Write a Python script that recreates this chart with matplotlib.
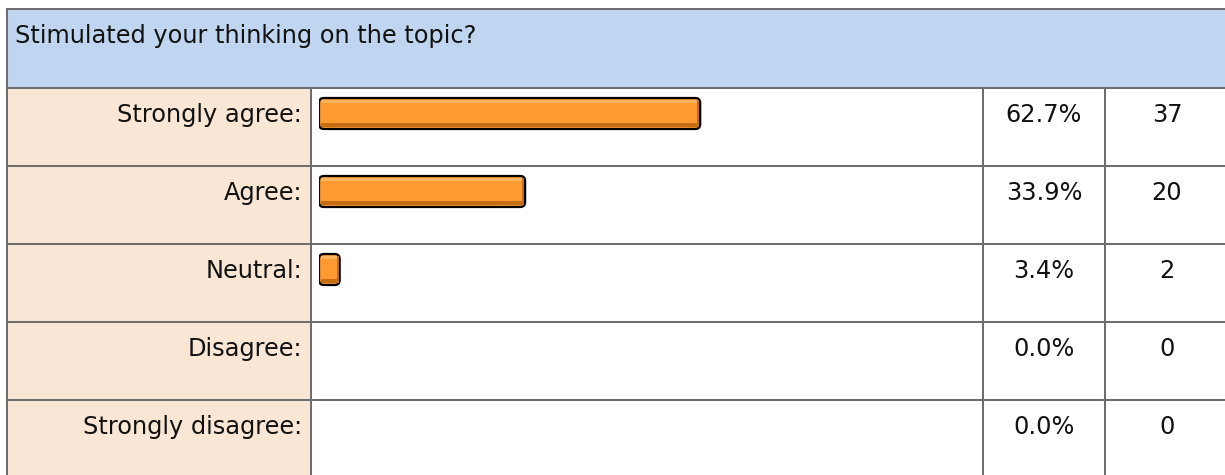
"""Survey result table: one question, five answers, percentage bars."""

import matplotlib

matplotlib.use("Agg")
import matplotlib.pyplot as plt
from matplotlib.patches import FancyBboxPatch, Rectangle

QUESTION = "Stimulated your thinking on the topic?"
ANSWERS = ["Strongly agree:", "Agree:", "Neutral:", "Disagree:", "Strongly disagree:"]
PERCENTS = [62.7, 33.9, 3.4, 0.0, 0.0]
COUNTS = [37, 20, 2, 0, 0]

W, H = 1225, 475
HEAD_BG = "#c0d5ef"
LABEL_BG = "#f9e6d5"
GRID = "#6e6e6e"
ORANGE = "#ff9a33"
ORANGE_DARK = "#c56d12"
ORANGE_LIGHT = "#ffb45e"

# table layout in pixels
LEFT, TOP, HEAD_BOT = 7, 9, 88
ROW_H = 78
COL_LABEL, COL_BAR, COL_PCT = 311, 983, 1105
BAR_X0, PX_PER_PCT = 319, 6.08

plt.rcParams["font.family"] = ["DejaVu Sans"]
fig = plt.figure(figsize=(W / 100, H / 100), dpi=100)
ax = fig.add_axes([0, 0, 1, 1])
ax.set_xlim(0, W)
ax.set_ylim(H, 0)
ax.axis("off")

n = len(ANSWERS)
bottom = HEAD_BOT + n * ROW_H
lw = 1.45

# backgrounds
ax.add_patch(Rectangle((LEFT, TOP), W - LEFT, HEAD_BOT - TOP, color=HEAD_BG, lw=0))
ax.add_patch(Rectangle((LEFT, HEAD_BOT), COL_LABEL - LEFT, bottom - HEAD_BOT,
                       color=LABEL_BG, lw=0))

# grid lines
ax.plot([LEFT, W], [TOP, TOP], color=GRID, lw=lw)
ax.plot([LEFT, LEFT], [TOP, bottom], color=GRID, lw=lw)
for i in range(n + 1):
    y = HEAD_BOT + i * ROW_H
    ax.plot([LEFT, W], [y, y], color=GRID, lw=lw)
for x in (COL_LABEL, COL_BAR, COL_PCT):
    ax.plot([x, x], [HEAD_BOT, bottom], color=GRID, lw=lw)

# text
fs = 17.3
ink = "#111111"
ax.text(15, 43, QUESTION, fontsize=fs, ha="left", va="baseline", color=ink)
for i, (lab, pct, cnt) in enumerate(zip(ANSWERS, PERCENTS, COUNTS)):
    yb = HEAD_BOT + i * ROW_H + 34
    ax.text(302, yb, lab, fontsize=fs, ha="right", va="baseline", color=ink)
    ax.text((COL_BAR + COL_PCT) / 2, yb, f"{pct:.1f}%", fontsize=fs, ha="center",
            va="baseline", color=ink)
    ax.text(1167, yb, f"{cnt}", fontsize=fs, ha="center", va="baseline", color=ink)

# bars: separate axes with x in percent, y in row index
bx0 = BAR_X0 / W
bw = 100 * PX_PER_PCT / W
bax = fig.add_axes([bx0, (H - bottom) / H, bw, (bottom - HEAD_BOT) / H])
bax.set_xlim(0, 100)
bax.set_ylim(n, 0)
bax.axis("off")
bax.patch.set_alpha(0)

row_px = ROW_H
asp = PX_PER_PCT / row_px  # row units per percent-unit in pixel terms
top_off, bar_h = 10 / row_px, 31 / row_px
for i, pct in enumerate(PERCENTS):
    if pct <= 0:
        continue
    y0 = i + top_off
    # body with black rim
    bax.add_patch(FancyBboxPatch((0, y0), pct, bar_h,
                                 boxstyle="round,pad=0,rounding_size=0.8",
                                 mutation_aspect=asp, fc=ORANGE, ec="black", lw=1.6))
    # darker band along the bottom
    bax.add_patch(Rectangle((0.35, y0 + bar_h - 6 / row_px), pct - 0.7, 4 / row_px,
                            fc=ORANGE_DARK, lw=0))
    # light line along the top
    bax.add_patch(Rectangle((0.35, y0 + 2 / row_px), pct - 0.7, 2.5 / row_px,
                            fc=ORANGE_LIGHT, lw=0))
    # shaded right end
    bax.add_patch(Rectangle((pct - 0.45, y0 + 2 / row_px), 0.3, bar_h - 4 / row_px,
                            fc=ORANGE_DARK, lw=0))

fig.savefig("out.png", dpi=100)
